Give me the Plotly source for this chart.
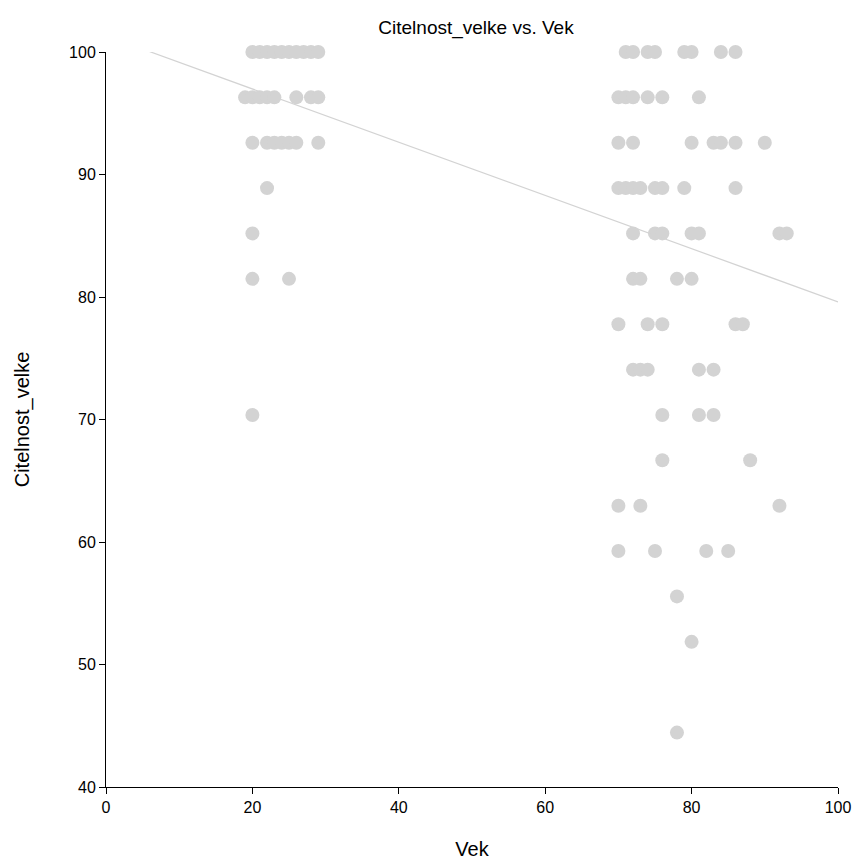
import plotly.graph_objects as go

# Rows of the scatter: each readability level and the ages (Vek) observed at it
level_values = [100.0, 96.30, 92.59, 88.89, 85.19, 81.48, 77.78, 74.07,
                70.37, 66.67, 62.96, 59.26, 55.56, 51.85, 44.44]
ages_at_level = [
    [20, 21, 22, 23, 24, 25, 26, 27, 28, 29, 71, 72, 74, 75, 79, 80, 84, 86],
    [19, 20, 21, 22, 23, 26, 28, 29, 70, 71, 72, 74, 76, 81],
    [20, 22, 23, 24, 25, 26, 29, 70, 72, 80, 83, 84, 86, 90],
    [22, 70, 71, 72, 73, 75, 76, 79, 86],
    [20, 72, 75, 76, 80, 81, 92, 93],
    [20, 25, 72, 73, 78, 80],
    [70, 74, 76, 86, 87],
    [72, 73, 74, 81, 83],
    [20, 76, 81, 83],
    [76, 88],
    [70, 73, 92],
    [70, 75, 82, 85],
    [78],
    [80],
    [78],
]

# Trend line end points
trend_vek = [0, 100]
trend_citelnost = [101.33, 79.6]

x_ticks = [0, 20, 40, 60, 80, 100]
y_ticks = [40, 50, 60, 70, 80, 90, 100]

vek = []
citelnost = []
for lvl, ages in zip(level_values, ages_at_level):
    for a in ages:
        vek.append(a)
        citelnost.append(lvl)

FONT = "Liberation Sans, Arial, sans-serif"
GRAY = "#d3d3d3"

fig = go.Figure()
fig.add_trace(go.Scatter(
    x=vek, y=citelnost, mode="markers",
    marker=dict(size=14, color=GRAY, line=dict(width=0)),
    cliponaxis=False, showlegend=False, hoverinfo="x+y",
))
fig.add_trace(go.Scatter(
    x=trend_vek, y=trend_citelnost, mode="lines",
    line=dict(color=GRAY, width=1.2),
    cliponaxis=True, showlegend=False, hoverinfo="skip",
))

fig.update_layout(
    width=858, height=861,
    margin=dict(l=106, r=20, t=52, b=74, pad=0),
    paper_bgcolor="white", plot_bgcolor="white",
    font=dict(family=FONT, color="black"),
    title=dict(text="Citelnost_velke vs. Vek", x=476 / 858, xanchor="center",
               y=1 - 27 / 861, yanchor="middle", yref="container",
               font=dict(size=19, family=FONT, color="black")),
)
fig.update_xaxes(
    range=[0, 100], tickvals=x_ticks, showgrid=False, zeroline=False,
    showline=True, linecolor="black", linewidth=1,
    ticks="outside", ticklen=6, tickcolor="black", tickwidth=1,
    tickfont=dict(size=16, family=FONT, color="black"),
    title=dict(text="Vek", font=dict(size=20, family=FONT, color="black"), standoff=26),
    automargin=False,
)
fig.update_yaxes(
    range=[40, 100], tickvals=y_ticks, showgrid=False, zeroline=False,
    showline=True, linecolor="black", linewidth=1,
    ticks="outside", ticklen=6, tickcolor="black", tickwidth=1,
    tickfont=dict(size=16, family=FONT, color="black"),
    title=dict(text="Citelnost_velke", font=dict(size=20, family=FONT, color="black"), standoff=34),
    automargin=False,
)

fig.write_html("out.html")
